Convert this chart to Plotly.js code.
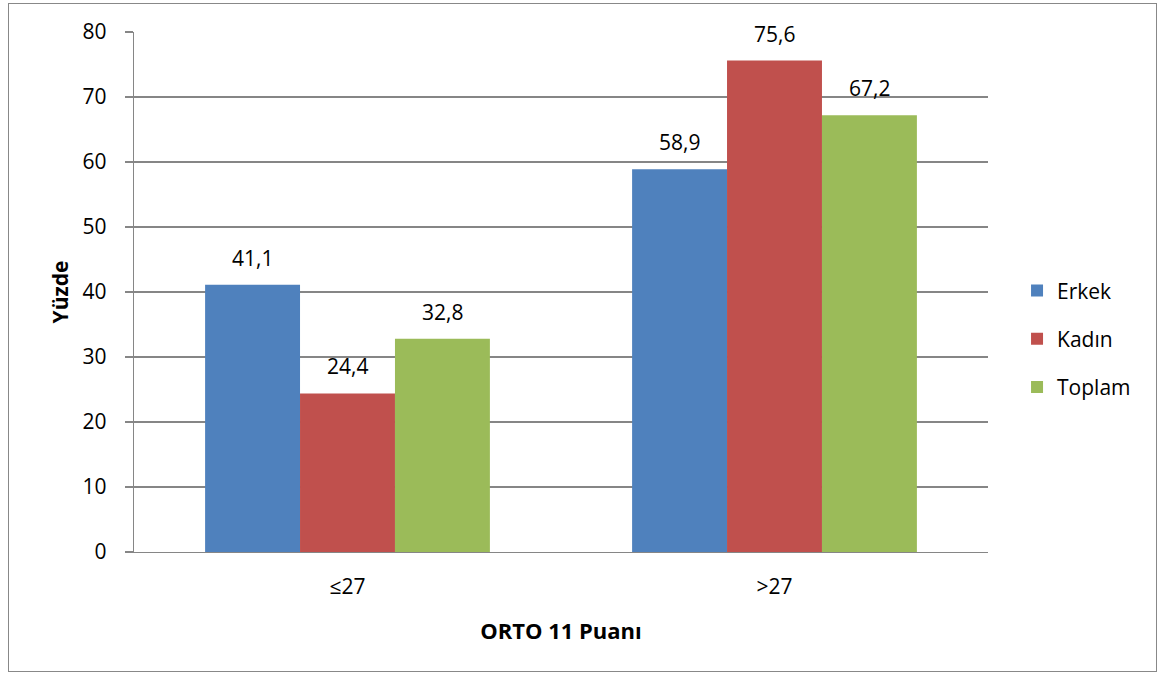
<!DOCTYPE html>
<html>
<head>
<meta charset="utf-8">
<script src="https://cdn.plot.ly/plotly-3.0.1.min.js"></script>
<style>
  html, body { margin: 0; padding: 0; background: #fff; }
  #chart { width: 1164px; height: 675px; }
  #frame { position: absolute; left: 8px; top: 3px; width: 1149px; height: 669px;
           border: 1.5px solid #888; pointer-events: none; box-sizing: border-box; }
</style>
</head>
<body>
<div id="chart"></div>
<div id="frame"></div>
<script>
// Score groups and the share (%) of each group
const categories = ['≤27', '>27'];
const erkek  = [41.1, 58.9];
const kadin  = [24.4, 75.6];
const toplam = [32.8, 67.2];
const seriesNames = ['Erkek', 'Kadın', 'Toplam'];
const yTicks = [0, 10, 20, 30, 40, 50, 60, 70, 80];

const colors = ['#4F81BD', '#C0504D', '#9BBB59'];
const seriesValues = [erkek, kadin, toplam];
const FONT = 'Open Sans, Noto Sans, sans-serif';
const FS = 21;

const traces = seriesValues.map((vals, i) => ({
  type: 'bar',
  name: seriesNames[i],
  x: categories,
  y: vals,
  marker: { color: colors[i], line: { width: 0 } },
  legendgroup: 'g' + i,
  hoverinfo: 'skip'
}));

// Value labels above each bar (decimal comma)
const barPx = 95;
const annotations = [];
seriesValues.forEach((vals, i) => {
  vals.forEach((v, j) => {
    annotations.push({
      x: categories[j], y: v, xref: 'x', yref: 'y',
      text: v.toFixed(1).replace('.', ','),
      showarrow: false, xshift: (i - 1) * barPx, yshift: 27,
      yanchor: 'middle', font: { family: FONT, size: FS, color: '#000' }
    });
  });
});

const layout = {
  width: 1164, height: 675,
  margin: { l: 134, r: 176, t: 32, b: 123 },
  paper_bgcolor: '#fff', plot_bgcolor: '#fff',
  barmode: 'group', bargap: 0.333, bargroupgap: 0,
  font: { family: FONT, size: FS, color: '#000' },
  xaxis: {
    type: 'category',
    showgrid: false, zeroline: false,
    showline: true, linecolor: '#868686', linewidth: 1.3,
    ticks: '', ticklen: 0, ticklabelstandoff: 15,
    tickfont: { family: FONT, size: FS },
    title: { text: '<b>ORTO 11 Puanı</b>', font: { family: FONT, size: 22 }, standoff: 25 }
  },
  yaxis: {
    range: [0, 80], tickvals: yTicks, ticktext: yTicks.map(String),
    showgrid: true, gridcolor: '#868686', gridwidth: 1.3,
    zeroline: false, showline: true, linecolor: '#868686', linewidth: 1.3,
    ticks: 'outside', ticklen: 8, tickcolor: '#868686', tickwidth: 1.3,
    ticklabelstandoff: 14,
    tickfont: { family: FONT, size: FS },
    title: { text: '<b>Yüzde</b>', font: { family: FONT, size: 21 }, standoff: 8 }
  },
  showlegend: true,
  legend: {
    x: 1.034, xanchor: 'left', y: 0.41, yanchor: 'middle',
    font: { family: FONT, size: FS }, tracegroupgap: 18,
    bgcolor: 'rgba(0,0,0,0)'
  },
  annotations: annotations
};

Plotly.newPlot('chart', traces, layout, { staticPlot: true, displayModeBar: false });
</script>
</body>
</html>
